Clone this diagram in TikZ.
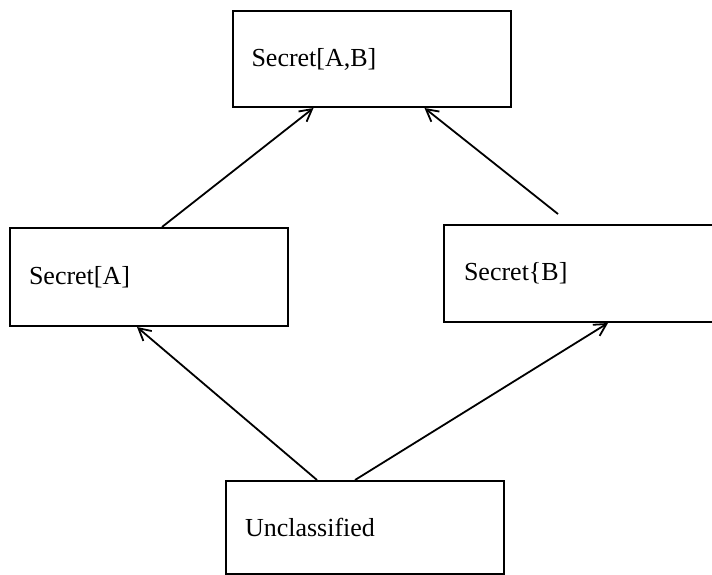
\documentclass[tikz,border=0pt]{standalone}
\usepackage{fontspec}
\setmainfont{Liberation Serif}
\usetikzlibrary{arrows.meta}
\tikzset{
  level/.style={draw,line width=2pt,minimum width=278pt,text width=240pt,inner xsep=19pt,align=left,
    font=\fontsize{26pt}{30pt}\selectfont},
  flow/.style={line width=1.8pt,-{Straight Barb[length=12pt,width=13pt,line width=1.8pt]}}
}
\begin{document}
\begin{tikzpicture}[x=1pt,y=-1pt]
\useasboundingbox(0,0)rectangle(712,575);
%
\node[level,minimum height=96pt](secAB)at(371.5,59){Secret[A,B]};
\node[level,minimum height=98pt](secA)at(149,277){Secret[A]};
\node[level,minimum height=97pt,minimum width=280pt](secB)at(584,273.5){Secret\{B]};
\node[level,minimum height=93pt](uncl)at(365,527.5){Unclassified};
%
\draw[flow]([xshift=13pt]secA.north)--([xshift=-58pt]secAB.south);
\draw[flow]([xshift=-26pt,yshift=10pt]secB.north)--([xshift=53pt]secAB.south);
\draw[flow]([xshift=-48pt]uncl.north)--([xshift=-12pt]secA.south);
\draw[flow]([xshift=-10pt]uncl.north)--([xshift=24pt]secB.south);
\end{tikzpicture}
\end{document}
